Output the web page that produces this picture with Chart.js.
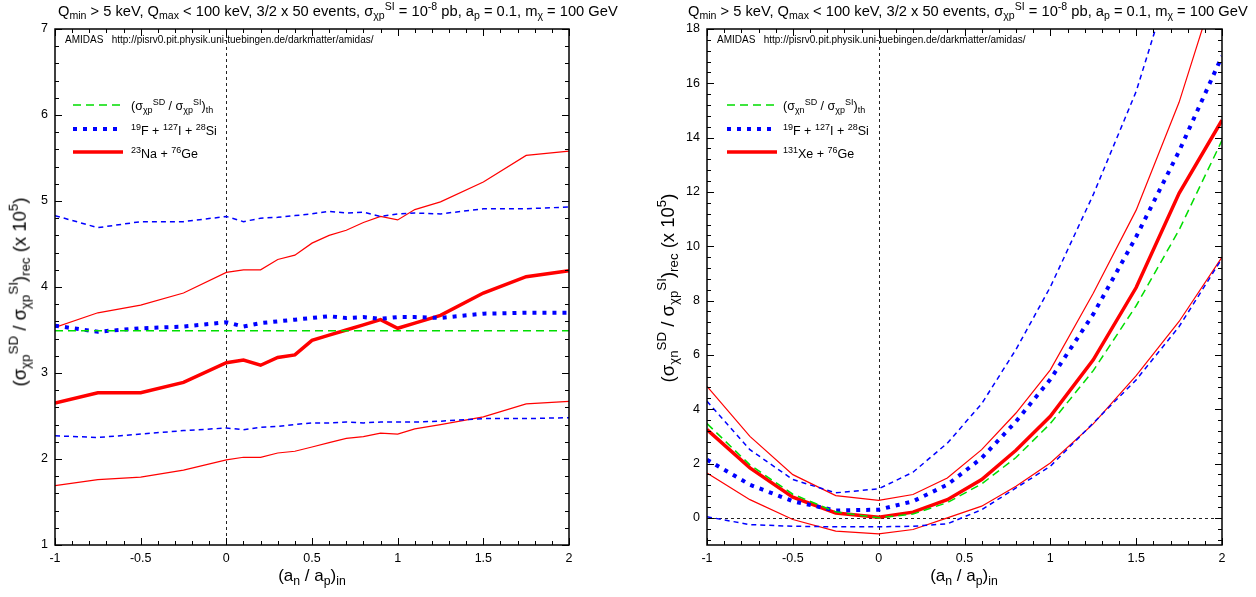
<!DOCTYPE html>
<html>
<head>
<meta charset="utf-8">
<script src="https://cdn.jsdelivr.net/npm/chart.js@4/dist/chart.umd.min.js"></script>
<style>
  body { margin:0; width:1256px; height:597px; position:relative; background:#fff; overflow:hidden;
         font-family:"Liberation Sans", Arial, sans-serif; color:#000; }
  canvas { position:absolute; top:0; }
  .txt { position:absolute; white-space:nowrap; line-height:1; }
  sub, sup { font-size:72%; line-height:0; position:relative; vertical-align:baseline; }
  sup { top:-0.6em; }
  sub { top:0.3em; }
  .title { font-size:14.7px; top:4px; }
  .xlab { font-size:17px; top:567px; transform:translateX(-50%); }
  .ylab { font-size:18.5px; transform:translate(-50%,-50%) rotate(-90deg); }
  .amidas { font-size:10px; top:35px; }
  .leg { font-size:12.5px; transform:translateY(-50%); }
  svg { position:absolute; overflow:visible; }
</style>
</head>
<body>
<canvas id="cL" width="628" height="597" style="left:0"></canvas>
<canvas id="cR" width="628" height="597" style="left:628px"></canvas>

<!-- titles -->
<div class="txt title" style="left:58px">Q<sub>min</sub> &gt; 5 keV, Q<sub>max</sub> &lt; 100 keV, 3/2 x 50 events, σ<sub>χp</sub><sup>SI</sup> = 10<sup>-8</sup> pb, a<sub>p</sub> = 0.1, m<sub>χ</sub> = 100 GeV</div>
<div class="txt title" style="left:688px">Q<sub>min</sub> &gt; 5 keV, Q<sub>max</sub> &lt; 100 keV, 3/2 x 50 events, σ<sub>χp</sub><sup>SI</sup> = 10<sup>-8</sup> pb, a<sub>p</sub> = 0.1, m<sub>χ</sub> = 100 GeV</div>

<div class="txt amidas" style="left:65px">AMIDAS &nbsp; http://pisrv0.pit.physik.uni-tuebingen.de/darkmatter/amidas/</div>
<div class="txt amidas" style="left:717px">AMIDAS &nbsp; http://pisrv0.pit.physik.uni-tuebingen.de/darkmatter/amidas/</div>

<!-- axis titles -->
<div class="txt xlab" style="left:312px">(a<sub>n</sub> / a<sub>p</sub>)<sub>in</sub></div>
<div class="txt xlab" style="left:964px">(a<sub>n</sub> / a<sub>p</sub>)<sub>in</sub></div>
<div class="txt ylab" style="left:20px;top:292px">(σ<sub>χp</sub><sup>SD</sup> / σ<sub>χp</sub><sup>SI</sup>)<sub>rec</sub> (x 10<sup>5</sup>)</div>
<div class="txt ylab" style="left:668px;top:288px">(σ<sub>χn</sub><sup>SD</sup> / σ<sub>χp</sub><sup>SI</sup>)<sub>rec</sub> (x 10<sup>5</sup>)</div>

<!-- legends -->
<svg width="1256" height="597" style="left:0;top:0">
  <line x1="73" y1="105" x2="123" y2="105" stroke="#00dd00" stroke-width="1.5" stroke-dasharray="8,5"/>
  <line x1="73" y1="129" x2="123" y2="129" stroke="#0000ff" stroke-width="4" stroke-dasharray="4,6"/>
  <line x1="73" y1="152" x2="123" y2="152" stroke="#ff0000" stroke-width="3.5"/>
  <line x1="727" y1="105" x2="777" y2="105" stroke="#00dd00" stroke-width="1.5" stroke-dasharray="8,5"/>
  <line x1="727" y1="129" x2="777" y2="129" stroke="#0000ff" stroke-width="4" stroke-dasharray="4,6"/>
  <line x1="727" y1="152" x2="777" y2="152" stroke="#ff0000" stroke-width="3.5"/>
</svg>
<div class="txt leg" style="left:131px;top:106px">(σ<sub>χp</sub><sup>SD</sup> / σ<sub>χp</sub><sup>SI</sup>)<sub>th</sub></div>
<div class="txt leg" style="left:131px;top:131px"><sup>19</sup>F + <sup>127</sup>I + <sup>28</sup>Si</div>
<div class="txt leg" style="left:131px;top:154px"><sup>23</sup>Na + <sup>76</sup>Ge</div>
<div class="txt leg" style="left:783px;top:106px">(σ<sub>χn</sub><sup>SD</sup> / σ<sub>χp</sub><sup>SI</sup>)<sub>th</sub></div>
<div class="txt leg" style="left:783px;top:131px"><sup>19</sup>F + <sup>127</sup>I + <sup>28</sup>Si</div>
<div class="txt leg" style="left:783px;top:154px"><sup>131</sup>Xe + <sup>76</sup>Ge</div>

<script>
// ---- left panel data: sigma_chi-p^SD / sigma_chi-p^SI ----
const xLeft = [-1, -0.75, -0.5, -0.25, 0, 0.1, 0.2, 0.3, 0.4, 0.5, 0.6, 0.7, 0.8, 0.9, 1, 1.1, 1.25, 1.5, 1.75, 2];
const theoryLeft = [3.49, 3.49, 3.49, 3.49, 3.49, 3.49, 3.49, 3.49, 3.49, 3.49, 3.49, 3.49, 3.49, 3.49, 3.49, 3.49, 3.49, 3.49, 3.49, 3.49];
const fisiMidLeft = [3.55, 3.48, 3.52, 3.54, 3.59, 3.54, 3.58, 3.60, 3.62, 3.64, 3.66, 3.64, 3.65, 3.63, 3.65, 3.65, 3.64, 3.69, 3.70, 3.70];
const fisiHiLeft = [4.83, 4.69, 4.76, 4.76, 4.82, 4.76, 4.80, 4.81, 4.83, 4.85, 4.88, 4.86, 4.87, 4.82, 4.85, 4.86, 4.85, 4.91, 4.91, 4.93];
const fisiLoLeft = [2.27, 2.25, 2.29, 2.33, 2.36, 2.34, 2.37, 2.38, 2.40, 2.42, 2.42, 2.43, 2.42, 2.43, 2.43, 2.43, 2.44, 2.47, 2.47, 2.48];
const nageMidLeft = [2.65, 2.77, 2.77, 2.89, 3.12, 3.15, 3.09, 3.18, 3.21, 3.38, 3.44, 3.50, 3.56, 3.62, 3.52, 3.58, 3.67, 3.93, 4.12, 4.19];
const nageHiLeft = [3.53, 3.70, 3.79, 3.93, 4.17, 4.20, 4.20, 4.32, 4.37, 4.51, 4.60, 4.66, 4.75, 4.82, 4.78, 4.90, 4.99, 5.22, 5.53, 5.58];
const nageLoLeft = [1.69, 1.76, 1.79, 1.87, 1.99, 2.02, 2.02, 2.07, 2.09, 2.14, 2.19, 2.24, 2.26, 2.30, 2.29, 2.35, 2.40, 2.49, 2.64, 2.67];

// ---- right panel data: sigma_chi-n^SD / sigma_chi-p^SI ----
const xRight = [-1, -0.75, -0.5, -0.25, 0, 0.2, 0.4, 0.6, 0.8, 1, 1.25, 1.5, 1.75, 2];
const theoryRight = [3.47, 1.95, 0.87, 0.22, 0, 0.14, 0.56, 1.25, 2.22, 3.47, 5.42, 7.81, 10.6, 13.9];
const fisiMidRight = [2.14, 1.22, 0.61, 0.27, 0.30, 0.61, 1.22, 2.2, 3.55, 5.1, 7.5, 10.35, 13.5, 17.0];
const fisiHiRight = [4.29, 2.51, 1.41, 0.92, 1.07, 1.68, 2.75, 4.2, 6.2, 8.5, 11.9, 15.7, 20.8, 26.5];
const fisiLoRight = [0.04, -0.25, -0.31, -0.33, -0.33, -0.31, -0.22, 0.3, 1.10, 1.90, 3.49, 5.08, 7.04, 9.55];
const xegeMidRight = [3.25, 1.84, 0.76, 0.18, 0.02, 0.21, 0.67, 1.41, 2.49, 3.74, 5.82, 8.48, 11.95, 14.64];
const xegeHiRight = [4.84, 3.0, 1.59, 0.82, 0.64, 0.86, 1.47, 2.51, 3.86, 5.45, 8.27, 11.33, 15.3, 20.3];
const xegeLoRight = [1.65, 0.67, -0.06, -0.49, -0.59, -0.43, 0.0, 0.43, 1.16, 2.02, 3.46, 5.24, 7.23, 9.6];

// ---- tick labels ----
const xTicks = [-1, -0.5, 0, 0.5, 1, 1.5, 2];
const yTicksLeft = [1, 2, 3, 4, 5, 6, 7];
const yTicksRight = [0, 2, 4, 6, 8, 10, 12, 14, 16, 18];

const FONT = '"Liberation Sans", Arial, sans-serif';
const GREEN = '#00dd00', BLUE = '#0000ff', RED = '#ff0000';

const pts = (xs, ys) => xs.map((x, i) => ({ x, y: ys[i] }));

// frame, inward ticks and zero lines, gnuplot style
const framePlugin = {
  id: 'frame',
  beforeDatasetsDraw(chart, args, opts) {
    const { ctx, chartArea: a, scales: { x, y } } = chart;
    ctx.save();
    ctx.strokeStyle = '#222';
    ctx.lineWidth = 1;
    ctx.setLineDash([3, 3]);
    const x0 = Math.round(x.getPixelForValue(0)) + 0.5;
    ctx.beginPath(); ctx.moveTo(x0, a.top); ctx.lineTo(x0, a.bottom); ctx.stroke();
    if (opts.zeroY) {
      const y0 = Math.round(y.getPixelForValue(0)) + 0.5;
      ctx.beginPath(); ctx.moveTo(a.left, y0); ctx.lineTo(a.right, y0); ctx.stroke();
    }
    ctx.restore();
  },
  afterDatasetsDraw(chart, args, opts) {
    const { ctx, chartArea: a, scales: { x, y } } = chart;
    ctx.save();
    ctx.strokeStyle = '#000';
    ctx.lineWidth = 1;
    ctx.beginPath();
    for (let i = 0; x.min + i * opts.xMinor <= x.max + 1e-9; i++) {
      const v = x.min + i * opts.xMinor;
      const major = Math.abs(v / opts.xMajor - Math.round(v / opts.xMajor)) < 1e-6;
      const len = major ? 7 : 4;
      const px = Math.round(x.getPixelForValue(v)) + 0.5;
      ctx.moveTo(px, a.bottom); ctx.lineTo(px, a.bottom - len);
      ctx.moveTo(px, a.top); ctx.lineTo(px, a.top + len);
    }
    const start = Math.ceil(y.min / opts.yMinor - 1e-9) * opts.yMinor;
    for (let v = start; v <= y.max + 1e-9; v += opts.yMinor) {
      const major = Math.abs(v / opts.yMajor - Math.round(v / opts.yMajor)) < 1e-6;
      const len = major ? 7 : 4;
      const py = Math.round(y.getPixelForValue(v)) + 0.5;
      ctx.moveTo(a.left, py); ctx.lineTo(a.left + len, py);
      ctx.moveTo(a.right, py); ctx.lineTo(a.right - len, py);
    }
    ctx.stroke();
    ctx.lineWidth = 1.5;
    ctx.strokeRect(a.left, a.top, a.right - a.left, a.bottom - a.top);
    ctx.restore();
  }
};

function lineSet(data, color, width, dash) {
  return {
    data, borderColor: color, backgroundColor: color, borderWidth: width,
    borderDash: dash || [], pointRadius: 0, tension: 0, fill: false, borderCapStyle: 'butt'
  };
}

function makePanel(id, xs, series, opt) {
  const [theory, fMid, fHi, fLo, nMid, nHi, nLo] = series;
  return new Chart(document.getElementById(id), {
    type: 'line',
    data: {
      datasets: [
        lineSet(pts(xs, theory), GREEN, 1.5, [8, 5]),
        lineSet(pts(xs, fMid), BLUE, 4, [4, 6]),
        lineSet(pts(xs, nMid), RED, 3.5),
        lineSet(pts(xs, fHi), BLUE, 1.5, [5, 4]),
        lineSet(pts(xs, fLo), BLUE, 1.5, [5, 4]),
        lineSet(pts(xs, nHi), RED, 1.2),
        lineSet(pts(xs, nLo), RED, 1.2),
      ]
    },
    options: {
      responsive: false, animation: false, devicePixelRatio: 1,
      layout: { padding: { left: 0, top: 29, right: opt.padRight, bottom: 0 } },
      plugins: {
        legend: { display: false }, tooltip: { enabled: false },
        frame: opt.frame
      },
      scales: {
        x: {
          type: 'linear', min: -1, max: 2,
          grid: { display: false, drawTicks: false, tickLength: 0 }, border: { display: false },
          afterBuildTicks: s => { s.ticks = xTicks.map(v => ({ value: v })); },
          afterFit: s => { s.height = 52; },
          ticks: { color: '#000', padding: 6, font: { family: FONT, size: 12.5 }, callback: v => String(v), maxRotation: 0 }
        },
        y: {
          type: 'linear', min: opt.yMin, max: opt.yMax,
          grid: { display: false, drawTicks: false, tickLength: 0 }, border: { display: false },
          afterBuildTicks: s => { s.ticks = opt.yTicks.map(v => ({ value: v })); },
          afterFit: s => { s.width = opt.yWidth; },
          ticks: { color: '#000', padding: 7, font: { family: FONT, size: 12.5 }, callback: v => String(v) }
        }
      }
    },
    plugins: [framePlugin]
  });
}

makePanel('cL', xLeft,
  [theoryLeft, fisiMidLeft, fisiHiLeft, fisiLoLeft, nageMidLeft, nageHiLeft, nageLoLeft],
  { yMin: 1, yMax: 7, yTicks: yTicksLeft, yWidth: 55, padRight: 59,
    frame: { xMajor: 0.5, xMinor: 0.1, yMajor: 1, yMinor: 0.2, zeroY: false } });

makePanel('cR', xRight,
  [theoryRight, fisiMidRight, fisiHiRight, fisiLoRight, xegeMidRight, xegeHiRight, xegeLoRight],
  { yMin: -1, yMax: 18, yTicks: yTicksRight, yWidth: 79, padRight: 34,
    frame: { xMajor: 0.5, xMinor: 0.1, yMajor: 2, yMinor: 0.4, zeroY: true } });
</script>
</body>
</html>
